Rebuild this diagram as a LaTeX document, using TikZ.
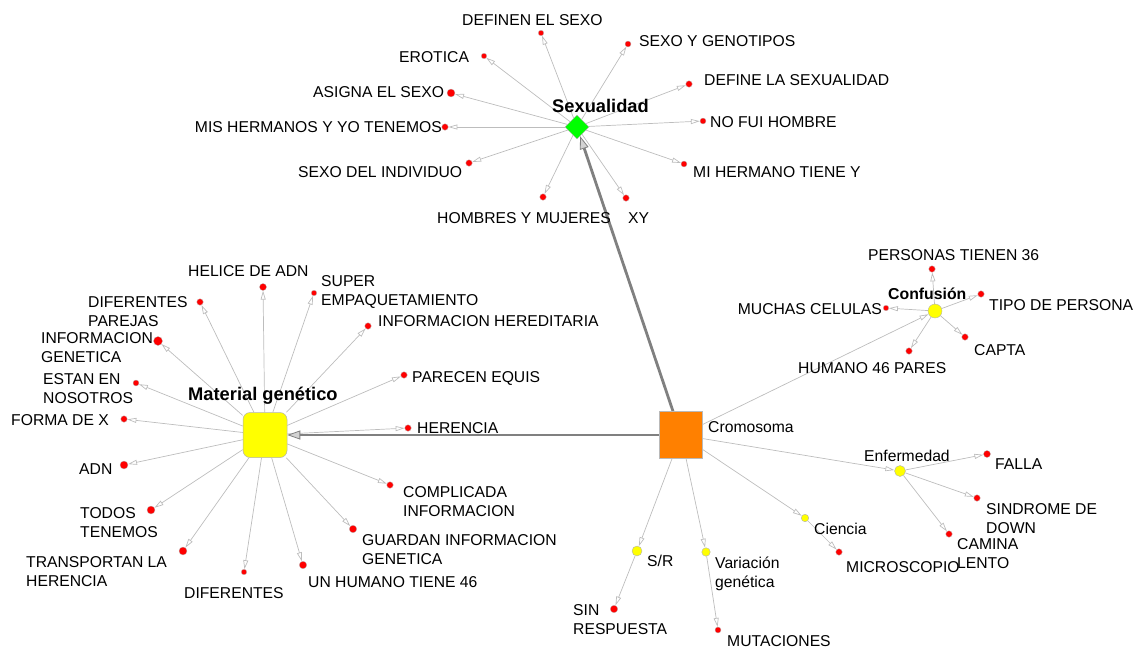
\documentclass[tikz,border=0pt]{standalone}
\usepackage{fontspec}
\setmainfont{Liberation Sans}
\usetikzlibrary{arrows.meta,shapes.geometric,backgrounds}
\definecolor{leafred}{HTML}{FF0000}
\definecolor{hubyellow}{HTML}{FFFF00}
\definecolor{sexgreen}{HTML}{00FF00}
\definecolor{croorange}{HTML}{FF8000}
\definecolor{edgegray}{HTML}{BDBDBD}
\definecolor{heavygray}{HTML}{808080}

\begin{document}
\begin{tikzpicture}[x=1pt,y=-1pt,
  lbl/.style={inner sep=0pt, font=\fontsize{15.7}{18.5}\selectfont, text=black},
  ml/.style={lbl, align=left, anchor=north west},
  lblb/.style={inner sep=0pt, font=\fontsize{18.3}{22}\selectfont\bfseries, anchor=base west},
  leaf/.style={circle, fill=leafred, draw=gray!55, line width=0.3pt, inner sep=0pt, minimum size=#1},
  leaf/.default=6pt,
  hub/.style={circle, fill=hubyellow, draw=gray!60, line width=0.4pt, inner sep=0pt, minimum size=#1},
  edge/.style={draw=edgegray, line width=0.7pt, -{Triangle[open, length=9pt, width=5pt, line width=0.7pt]}},
  heavy/.style={draw=heavygray, line width=2.8pt, -{Triangle[length=13pt, width=9pt, line width=0.8pt, fill=gray!35]}}
]
\useasboundingbox (0,0) rectangle (1135,648);

% ---- main concepts ----
\node[diamond, fill=sexgreen, draw=gray!60, line width=0.4pt, inner sep=0pt, minimum size=24pt] (sex) at (577,127) {};
\node[lblb] (sexl) at (552,112) {Sexualidad};

\node[rectangle, rounded corners=7pt, fill=hubyellow, draw=gray!60, line width=0.5pt, minimum width=44pt, minimum height=45pt, inner sep=0pt] (mat) at (265,435) {};
\node[lblb] (matl) at (188,400.5) {Material genético};

\node[rectangle, fill=croorange, draw=gray!55, line width=0.6pt, minimum width=43pt, minimum height=47pt, inner sep=0pt] (cro) at (681,435) {};
\node[lbl, anchor=base west] (crol) at (708,432.5) {Cromosoma};

% ---- Sexualidad leaves ----
\node[leaf=5.5pt] (s1) at (541,33) {};
\node[leaf=6pt] (s2) at (628,44) {};
\node[leaf=6.5pt] (s3) at (689,84) {};
\node[leaf=6pt] (s4) at (703,121) {};
\node[leaf=6pt] (s5) at (684,164) {};
\node[leaf=6.5pt] (s6) at (626,198) {};
\node[leaf=6.5pt] (s7) at (543,197) {};
\node[leaf=6.5pt] (s8) at (469,163) {};
\node[leaf=6.5pt] (s9) at (445,127) {};
\node[leaf=8pt] (s10) at (451,93) {};
\node[leaf=5.5pt] (s11) at (484,56) {};

\node[lbl, anchor=base west] (s1l) at (462,25.6) {DEFINEN EL SEXO};
\node[lbl, anchor=base west] (s2l) at (639,46.6) {SEXO Y GENOTIPOS};
\node[lbl, anchor=base west] (s3l) at (704,85.6) {DEFINE LA SEXUALIDAD};
\node[lbl, anchor=base west] (s4l) at (710,127.6) {NO FUI HOMBRE};
\node[lbl, anchor=base west] (s5l) at (693,177.6) {MI HERMANO TIENE Y};
\node[lbl, anchor=base west] (s6l) at (628,223.6) {XY};
\node[lbl, anchor=base east] (s7l) at (611,223.6) {HOMBRES Y MUJERES};
\node[lbl, anchor=base west] (s8l) at (298,177.6) {SEXO DEL INDIVIDUO};
\node[lbl, anchor=base east] (s9l) at (442,132.6) {MIS HERMANOS Y YO TENEMOS};
\node[lbl, anchor=base west] (s10l) at (313,97.6) {ASIGNA EL SEXO};
\node[lbl, anchor=base west] (s11l) at (399,62.6) {EROTICA};

% ---- Material genético leaves ----
\node[leaf=7pt] (m1) at (263,287) {};
\node[leaf=5.5pt] (m2) at (314,293) {};
\node[leaf=6.5pt] (m3) at (368,326) {};
\node[leaf=6.5pt] (m4) at (404,375) {};
\node[leaf=6.5pt] (m5) at (408,428) {};
\node[leaf=6.5pt] (m6) at (390,485) {};
\node[leaf=7.5pt] (m7) at (353,529) {};
\node[leaf=7.5pt] (m8) at (303,565) {};
\node[leaf=5.5pt] (m9) at (244,572) {};
\node[leaf=8pt] (m10) at (183,551) {};
\node[leaf=8pt] (m11) at (151,510) {};
\node[leaf=8pt] (m12) at (124,465) {};
\node[leaf=6.5pt] (m13) at (124,419) {};
\node[leaf=6pt] (m14) at (136,383) {};
\node[leaf=9pt] (m15) at (158,341) {};
\node[leaf=6.5pt] (m16) at (200,302) {};

\node[lbl, anchor=base west] (m1l) at (188,276.6) {HELICE DE ADN};
\node[ml] (m2l) at (321,275.4) {SUPER\\EMPAQUETAMIENTO};
\node[lbl, anchor=base west] (m3l) at (378,326.6) {INFORMACION HEREDITARIA};
\node[lbl, anchor=base west] (m4l) at (412,382.6) {PARECEN EQUIS};
\node[lbl, anchor=base west] (m5l) at (417,433.6) {HERENCIA};
\node[ml] (m6l) at (403,486.4) {COMPLICADA\\INFORMACION};
\node[ml] (m7l) at (362,534.4) {GUARDAN INFORMACION\\GENETICA};
\node[lbl, anchor=base west] (m8l) at (308,587.6) {UN HUMANO TIENE 46};
\node[lbl, anchor=base west] (m9l) at (184,598.6) {DIFERENTES};
\node[ml] (m10l) at (26,556.4) {TRANSPORTAN LA\\HERENCIA};
\node[ml] (m11l) at (80,507.4) {TODOS\\TENEMOS};
\node[lbl, anchor=base west] (m12l) at (79,474.6) {ADN};
\node[lbl, anchor=base west] (m13l) at (11,425.6) {FORMA DE X};
\node[ml] (m14l) at (43,373.4) {ESTAN EN\\NOSOTROS};
\node[ml] (m15l) at (41,332.4) {INFORMACION\\GENETICA};
\node[ml] (m16l) at (88,296.4) {DIFERENTES\\PAREJAS};

% ---- Cromosoma sub-concepts ----
\node[hub=14pt] (conf) at (935,311) {};
\node[hub=11pt] (enf) at (900,471) {};
\node[hub=7.5pt] (cien) at (805,518) {};
\node[hub=8.5pt] (var) at (706,552) {};
\node[hub=10pt] (sr) at (637,551) {};

\node[inner sep=0pt, font=\fontsize{15.8}{19}\selectfont\bfseries, anchor=base west] (confl) at (888,299) {Confusión};
\node[lbl, anchor=base west] (enfl) at (864,461) {Enfermedad};
\node[lbl, anchor=base west] (cienl) at (814,534) {Ciencia};
\node[ml] (varl) at (715,557) {Variación\\genética};
\node[lbl, anchor=base west] (srl) at (647,566.6) {S/R};

% Confusión leaves
\node[leaf=6.5pt] (c1) at (932,269) {};
\node[leaf=6.5pt] (c2) at (981,294) {};
\node[leaf=6.5pt] (c3) at (965,337) {};
\node[leaf=6.5pt] (c4) at (909,351) {};
\node[leaf=5.5pt] (c5) at (886,308) {};
\node[lbl, anchor=base west] (c1l) at (868,260.6) {PERSONAS TIENEN 36};
\node[lbl, anchor=base west] (c2l) at (989,310.6) {TIPO DE PERSONA};
\node[lbl, anchor=base west] (c3l) at (974,355.6) {CAPTA};
\node[lbl, anchor=base west] (c4l) at (798,373.6) {HUMANO 46 PARES};
\node[lbl, anchor=base east] (c5l) at (882,314.6) {MUCHAS CELULAS};

% Enfermedad leaves
\node[leaf=7pt] (e1) at (987,454) {};
\node[leaf=6.5pt] (e2) at (977,498) {};
\node[leaf=6.5pt] (e3) at (949,534) {};
\node[lbl, anchor=base west] (e1l) at (995,469.6) {FALLA};
\node[ml] (e2l) at (986,503.4) {SINDROME DE\\DOWN};
\node[ml] (e3l) at (957,538.4) {CAMINA\\LENTO};

% Ciencia, Variación genética, S/R leaves
\node[leaf=6.5pt] (ci1) at (839,552) {};
\node[lbl, anchor=base west] (ci1l) at (846,572.6) {MICROSCOPIO};
\node[leaf=6pt] (v1) at (718,630) {};
\node[lbl, anchor=base west] (v1l) at (727,646.6) {MUTACIONES};
\node[leaf=7.5pt] (r1) at (614,609) {};
\node[ml] (r1l) at (573,604.4) {SIN\\RESPUESTA};

% ---- connectors, kept behind nodes and labels ----
\begin{scope}[on background layer]
  \foreach \t in {s1,s2,s3,s4,s5,s6,s7,s8,s9,s10,s11}
    \draw[edge] (sex) -- (\t);
  \foreach \t in {m1,m2,m3,m4,m5,m6,m7,m8,m9,m10,m11,m12,m13,m14,m15,m16}
    \draw[edge] (mat) -- (\t);
  \foreach \t in {conf,enf,cien,var,sr}
    \draw[edge] (cro) -- (\t);
  \foreach \t in {c1,c2,c3,c4,c5}
    \draw[edge] (conf) -- (\t);
  \foreach \t in {e1,e2,e3}
    \draw[edge] (enf) -- (\t);
  \draw[edge] (cien) -- (ci1);
  \draw[edge] (var) -- (v1);
  \draw[edge] (sr) -- (r1);
  \draw[heavy] (cro) -- (mat);
  \draw[heavy] (cro) -- (sex);
\end{scope}
\end{tikzpicture}
\end{document}
